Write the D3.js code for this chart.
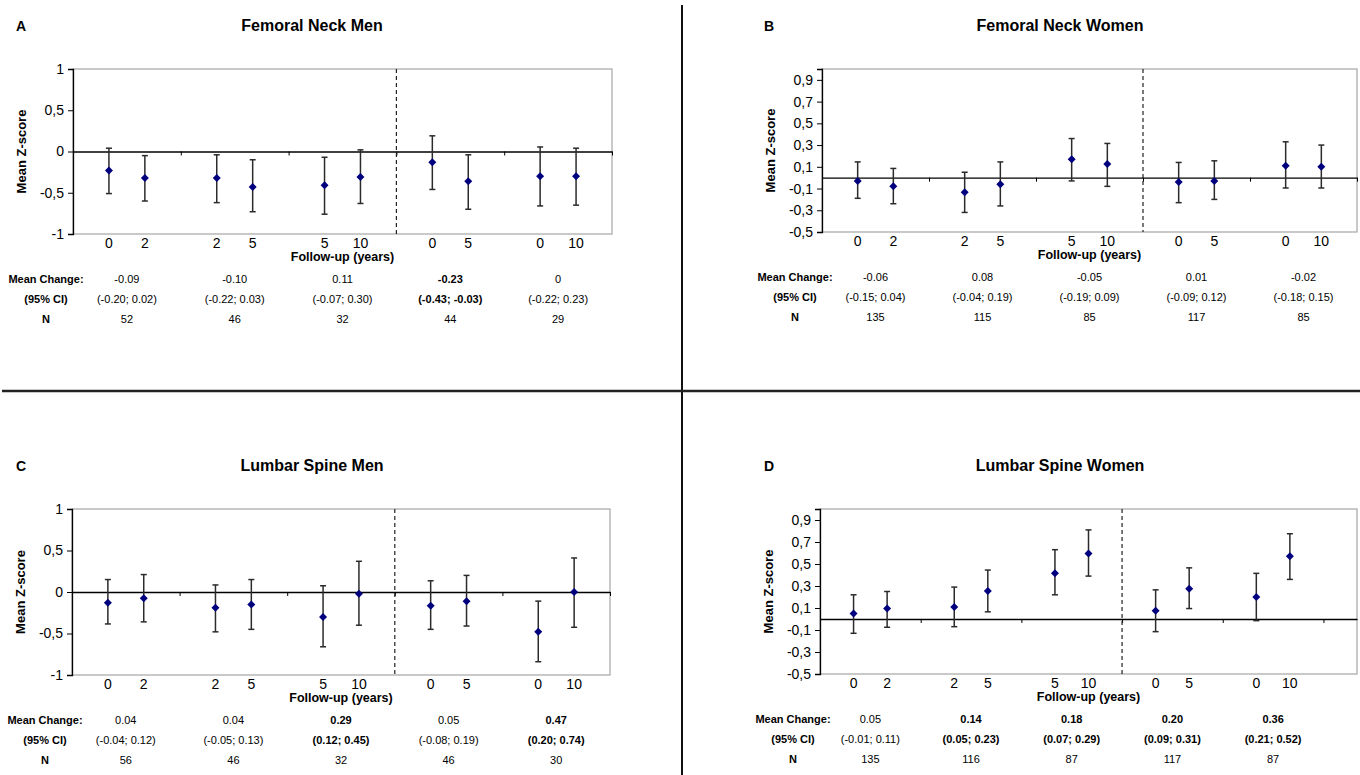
<!DOCTYPE html>
<meta charset="utf-8">
<style>
body { margin: 0; background: #fff; }
text { font-family: "Liberation Sans", Arial, sans-serif; fill: #000; }
.title { font-size: 16px; font-weight: bold; }
.letter { font-size: 14px; font-weight: bold; }
.ytitle, .xtitle { font-weight: bold; }
.tab { font-size: 11px; }
.axis text { font-size: 14px; }
.axis path, .axis line { stroke: #000; }
</style>
<body>
<script src="https://d3js.org/d3.v7.min.js"></script>
<script>

// follow-up year under each point, and the row labels of the table
var followUp = ["0", "2", "2", "5", "5", "10", "0", "5", "0", "10"];
var rowLabels = ["Mean Change:", "(95% CI)", "N"];

// A - femoral neck men
var neckMenMean = [-0.23, -0.32, -0.32, -0.43, -0.41, -0.31, -0.13, -0.36, -0.30, -0.30];
var neckMenLow  = [-0.51, -0.60, -0.62, -0.73, -0.76, -0.63, -0.46, -0.70, -0.66, -0.65];
var neckMenHigh = [0.04, -0.05, -0.04, -0.10, -0.07, 0.02, 0.19, -0.04, 0.055, 0.04];
var neckMenChange = ["-0.09", "-0.10", "0.11", "-0.23", "0"];
var neckMenCI = ["(-0.20; 0.02)", "(-0.22; 0.03)", "(-0.07; 0.30)", "(-0.43; -0.03)", "(-0.22; 0.23)"];
var neckMenN = [52, 46, 32, 44, 29];
var neckMenSig = [false, false, false, true, false];

// B - femoral neck women
var neckWomenMean = [-0.03, -0.08, -0.135, -0.06, 0.17, 0.125, -0.04, -0.03, 0.11, 0.10];
var neckWomenLow  = [-0.19, -0.24, -0.32, -0.26, -0.03, -0.08, -0.23, -0.20, -0.095, -0.095];
var neckWomenHigh = [0.145, 0.085, 0.05, 0.145, 0.36, 0.315, 0.14, 0.155, 0.33, 0.30];
var neckWomenChange = ["-0.06", "0.08", "-0.05", "0.01", "-0.02"];
var neckWomenCI = ["(-0.15; 0.04)", "(-0.04; 0.19)", "(-0.19; 0.09)", "(-0.09; 0.12)", "(-0.18; 0.15)"];
var neckWomenN = [135, 115, 85, 117, 85];
var neckWomenSig = [false, false, false, false, false];

// C - lumbar spine men
var spineMenMean = [-0.13, -0.075, -0.19, -0.15, -0.30, -0.02, -0.165, -0.11, -0.48, 0.0];
var spineMenLow  = [-0.385, -0.36, -0.48, -0.45, -0.66, -0.40, -0.45, -0.41, -0.84, -0.425];
var spineMenHigh = [0.15, 0.21, 0.085, 0.15, 0.075, 0.37, 0.135, 0.20, -0.11, 0.41];
var spineMenChange = ["0.04", "0.04", "0.29", "0.05", "0.47"];
var spineMenCI = ["(-0.04; 0.12)", "(-0.05; 0.13)", "(0.12; 0.45)", "(-0.08; 0.19)", "(0.20; 0.74)"];
var spineMenN = [56, 46, 32, 46, 30];
var spineMenSig = [false, false, true, false, true];

// D - lumbar spine women
var spineWomenMean = [0.05, 0.095, 0.11, 0.255, 0.415, 0.595, 0.075, 0.275, 0.20, 0.57];
var spineWomenLow  = [-0.13, -0.075, -0.07, 0.065, 0.22, 0.39, -0.115, 0.095, -0.015, 0.36];
var spineWomenHigh = [0.22, 0.25, 0.29, 0.445, 0.63, 0.81, 0.265, 0.465, 0.415, 0.775];
var spineWomenChange = ["0.05", "0.14", "0.18", "0.20", "0.36"];
var spineWomenCI = ["(-0.01; 0.11)", "(0.05; 0.23)", "(0.07; 0.29)", "(0.09; 0.31)", "(0.21; 0.52)"];
var spineWomenN = [135, 116, 87, 117, 87];
var spineWomenSig = [false, true, true, true, true];

var ticksWide = [-1, -0.5, 0, 0.5, 1];
var ticksFine = [-0.5, -0.3, -0.1, 0.1, 0.3, 0.5, 0.7, 0.9];

var svg = d3.select("body").append("svg")
    .attr("width", 1360)
    .attr("height", 775);

// quadrant dividers
svg.append("line").attr("x1", 682).attr("x2", 682).attr("y1", 5).attr("y2", 775)
    .attr("stroke", "#111").attr("stroke-width", 2);
svg.append("line").attr("x1", 2).attr("x2", 1360).attr("y1", 391).attr("y2", 391)
    .attr("stroke", "#222").attr("stroke-width", 2.5);

var panels = [
  {letter: "A", title: "Femoral Neck Men", mean: neckMenMean, low: neckMenLow, high: neckMenHigh,
   change: neckMenChange, ci: neckMenCI, n: neckMenN, sig: neckMenSig,
   left: 73, right: 612, top: 69, bottom: 234, xMax: 15, yDomain: [-1, 1], yTicks: ticksWide, ox: 0, oy: 0},
  {letter: "B", title: "Femoral Neck Women", mean: neckWomenMean, low: neckWomenLow, high: neckWomenHigh,
   change: neckWomenChange, ci: neckWomenCI, n: neckWomenN, sig: neckWomenSig,
   left: 822, right: 1357, top: 69, bottom: 232, xMax: 15, yDomain: [-0.5, 1], yTicks: ticksFine, ox: 748, oy: 0},
  {letter: "C", title: "Lumbar Spine Men", mean: spineMenMean, low: spineMenLow, high: spineMenHigh,
   change: spineMenChange, ci: spineMenCI, n: spineMenN, sig: spineMenSig,
   left: 72, right: 610, top: 509, bottom: 675, xMax: 15, yDomain: [-1, 1], yTicks: ticksWide, ox: 0, oy: 440},
  {letter: "D", title: "Lumbar Spine Women", mean: spineWomenMean, low: spineWomenLow, high: spineWomenHigh,
   change: spineWomenChange, ci: spineWomenCI, n: spineWomenN, sig: spineWomenSig,
   left: 820, right: 1357, top: 509, bottom: 674, xMax: 16, yDomain: [-0.5, 1], yTicks: ticksFine, ox: 748, oy: 440}
];

panels.forEach(drawPanel);

function drawPanel(p) {
  var g = svg.append("g");
  var x = d3.scaleLinear().domain([0, p.xMax]).range([p.left, p.right]);
  var y = d3.scaleLinear().domain(p.yDomain).range([p.bottom, p.top]);
  // two points per group of three category slots
  var pos = function(i) { return Math.floor(i / 2) * 3 + 1 + (i % 2); };

  g.append("text").attr("class", "letter").attr("x", p.ox + 16).attr("y", p.oy + 31).text(p.letter);
  g.append("text").attr("class", "title").attr("text-anchor", "middle")
      .attr("x", p.ox + 312).attr("y", p.oy + 31).text(p.title);

  // plot frame
  g.append("rect").attr("x", p.left).attr("y", p.top)
      .attr("width", p.right - p.left).attr("height", p.bottom - p.top)
      .attr("fill", "none").attr("stroke", "#a6a6a6").attr("stroke-width", 1.2);

  // y axis, comma decimals and plain hyphen for minus
  var yAxis = g.append("g").attr("class", "axis")
      .attr("transform", "translate(" + p.left + ",0)")
      .call(d3.axisLeft(y).tickValues(p.yTicks).tickSize(5).tickPadding(4)
        .tickFormat(function(d) { return String(Math.round(d * 10) / 10).replace(".", ","); }));
  yAxis.select(".domain").attr("stroke-width", 1.3);

  // zero line with group ticks
  var zeroAxis = g.append("g").attr("class", "axis")
      .attr("transform", "translate(0," + y(0) + ")")
      .call(d3.axisBottom(x).tickValues([3, 6, 9, 12, 15]).tickSize(4).tickSizeOuter(0).tickFormat(""));
  zeroAxis.select(".domain").attr("stroke-width", 1.3);

  // baseline / follow-up separator
  g.append("line").attr("x1", x(9)).attr("x2", x(9)).attr("y1", p.top).attr("y2", p.bottom)
      .attr("stroke", "#222").attr("stroke-width", 1.2).attr("stroke-dasharray", "4,3");

  // follow-up year labels
  g.selectAll(".fu").data(followUp).enter().append("text")
      .attr("text-anchor", "middle").style("font-size", "14px")
      .attr("x", function(d, i) { return x(pos(i)); })
      .attr("y", p.bottom + 14)
      .text(function(d) { return d; });

  g.append("text").attr("class", "xtitle").attr("text-anchor", "middle").style("font-size", "12.5px")
      .attr("x", (p.left + p.right) / 2).attr("y", p.bottom + 27).text("Follow-up (years)");

  g.append("text").attr("class", "ytitle").attr("text-anchor", "middle").style("font-size", "13px")
      .attr("transform", "translate(" + (p.left - 47) + "," + ((p.top + p.bottom) / 2) + ") rotate(-90)")
      .text("Mean Z-score");

  // error bars
  var bars = g.selectAll(".err").data(p.mean).enter().append("g");
  bars.append("line")
      .attr("x1", function(d, i) { return x(pos(i)); })
      .attr("x2", function(d, i) { return x(pos(i)); })
      .attr("y1", function(d, i) { return y(p.low[i]); })
      .attr("y2", function(d, i) { return y(p.high[i]); });
  bars.append("line")
      .attr("x1", function(d, i) { return x(pos(i)) - 3; })
      .attr("x2", function(d, i) { return x(pos(i)) + 3; })
      .attr("y1", function(d, i) { return y(p.low[i]); })
      .attr("y2", function(d, i) { return y(p.low[i]); });
  bars.append("line")
      .attr("x1", function(d, i) { return x(pos(i)) - 3; })
      .attr("x2", function(d, i) { return x(pos(i)) + 3; })
      .attr("y1", function(d, i) { return y(p.high[i]); })
      .attr("y2", function(d, i) { return y(p.high[i]); });
  bars.selectAll("line").attr("stroke", "#2b2b2b").attr("stroke-width", 1.5);

  // means
  g.selectAll(".pt").data(p.mean).enter().append("path")
      .attr("d", d3.symbol().type(d3.symbolSquare).size(32))
      .attr("fill", "#00007f")
      .attr("transform", function(d, i) {
        return "translate(" + x(pos(i)) + "," + y(d) + ") rotate(45)";
      });

  // table under the chart
  var rows = [p.change, p.ci, p.n];
  var rowY = [p.bottom + 49, p.bottom + 69, p.bottom + 89];
  rowLabels.forEach(function(lab, r) {
    g.append("text").attr("class", "tab").attr("text-anchor", "middle").style("font-weight", "bold")
        .attr("x", p.left - 27).attr("y", rowY[r]).text(lab);
    g.selectAll(".row" + r).data(rows[r]).enter().append("text")
        .attr("class", "tab").attr("text-anchor", "middle")
        .style("font-weight", function(d, k) { return (r < 2 && p.sig[k]) ? "bold" : "normal"; })
        .attr("x", function(d, k) { return x(k * 3 + 1.5); })
        .attr("y", rowY[r])
        .text(function(d) { return d; });
  });
}

</script>
</body>
